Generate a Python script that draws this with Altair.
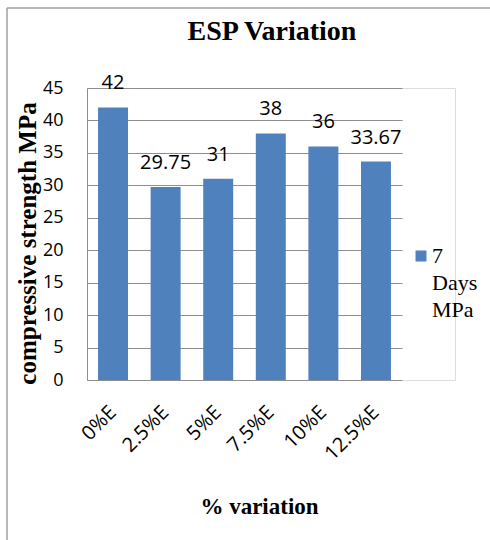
import altair as alt
import pandas as pd

categories = ["0%E", "2.5%E", "5%E", "7.5%E", "10%E", "12.5%E"]
values = [42, 29.75, 31, 38, 36, 33.67]
value_labels = ["42", "29.75", "31", "38", "36", "33.67"]
series_name = "7 Days MPa"
y_ticks = [0, 5, 10, 15, 20, 25, 30, 35, 40, 45]

df = pd.DataFrame({"cat": categories, "val": values, "lab": value_labels})
leg = pd.DataFrame({"name": [series_name], "lines": [series_name.split(" ")]})

BLUE = "#4F81BD"
GRID = "#8e8e8e"
SERIF = "Liberation Serif"
SANS = "Open Sans"

x_enc = alt.X(
    "cat:N",
    sort=categories,
    scale=alt.Scale(range=[0, 315], paddingInner=0.43, paddingOuter=0.21),
    axis=alt.Axis(
        title="% variation",
        titleFont=SERIF, titleFontSize=23, titleFontWeight="bold", titleColor="black",
        titleX=172, titleY=126, titleBaseline="middle", titleAlign="center",
        labelAngle=-45, labelAlign="right", labelBaseline="middle",
        labelFont=SANS, labelFontSize=20, labelColor="black", labelPadding=29,
        domain=False, ticks=False, grid=False,
    ),
)
y_enc = alt.Y(
    "val:Q",
    scale=alt.Scale(domain=[0, 45], nice=False),
    axis=alt.Axis(
        title="compressive strength MPa",
        titleFont=SERIF, titleFontSize=25, titleFontWeight="bold", titleColor="black",
        titleX=-60, titleY=155, titleBaseline="middle", titleAngle=-90,
        values=y_ticks, labelOverlap=False, labelFont=SANS, labelFontSize=18, labelColor="black",
        labelPadding=24, ticks=False, domain=True, domainColor=GRID,
        grid=True, gridColor=GRID, gridWidth=1,
    ),
)

bars = alt.Chart(df).mark_bar(color=BLUE).encode(x=x_enc, y=y_enc)
texts = alt.Chart(df).mark_text(
    font=SANS, fontSize=20, color="black", baseline="alphabetic", dy=-18
).encode(x=x_enc, y=y_enc, text="lab:N")

title_txt = alt.Chart(leg).mark_text(
    font=SERIF, fontSize=28, fontWeight="bold", color="black", align="center", baseline="alphabetic"
).encode(x=alt.value(185), y=alt.value(-48), text=alt.value("ESP Variation"))

leg_sym = alt.Chart(leg).mark_square(size=121, color=BLUE, opacity=1).encode(
    x=alt.value(334), y=alt.value(168)
)
leg_txt = alt.Chart(leg).mark_text(
    font=SERIF, fontSize=22, color="black", align="left", baseline="alphabetic", lineHeight=27
).encode(x=alt.value(345), y=alt.value(175), text="lines")

border_top = alt.Chart(leg).mark_rule(color="#a0a0a0", strokeWidth=1.5).encode(
    x=alt.value(-80), x2=alt.value(410), y=alt.value(-80)
)
border_left = alt.Chart(leg).mark_rule(color="#a0a0a0", strokeWidth=1.5).encode(
    x=alt.value(-80), y=alt.value(-80), y2=alt.value(460)
)

chart = alt.layer(bars, texts, title_txt, leg_sym, leg_txt, border_top, border_left).properties(
    width=368,
    height=292,
    autosize=alt.AutoSizeParams(type="none"),
    padding={"left": 87, "top": 88, "right": 35, "bottom": 160},
).configure_view(stroke=None).configure(background="white")

chart.save("out.html", embed_options={"renderer": "svg", "actions": False})
